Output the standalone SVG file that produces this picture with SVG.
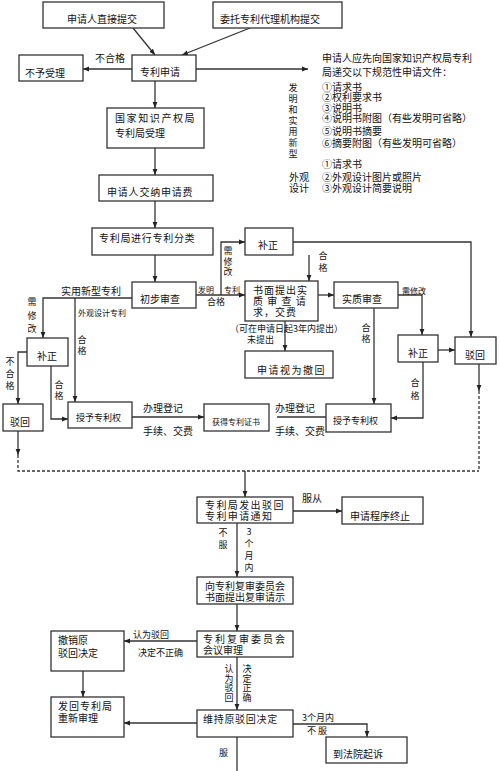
<svg xmlns="http://www.w3.org/2000/svg" width="500" height="771" viewBox="0 0 500 771">
<style>
text{font-family:"Noto Sans CJK SC","Noto Sans CJK TC",sans-serif;font-size:10px;fill:#111}
.s{font-size:8px}
.m{font-size:9px}
.v{font-size:9px;writing-mode:vertical-rl;text-orientation:upright}
.b{fill:#fff;stroke:#333;stroke-width:1.3}
.l{fill:none;stroke:#333;stroke-width:1.3}
.a{marker-end:url(#ah)}
.d{fill:none;stroke:#333;stroke-width:1.3;stroke-dasharray:3 2}
</style>
<defs>
<marker id="ah" viewBox="0 0 10 10" refX="10" refY="5" markerWidth="6" markerHeight="6" markerUnits="userSpaceOnUse" orient="auto"><path d="M0,1 L10,5 L0,9 z" fill="#222"/></marker>
</defs>
<rect width="500" height="771" fill="#fff"/>
<g id="connectors">
<path class="l a" d="M133,28 L155,55"/>
<path class="l a" d="M250,28 L182,55"/>
<path class="l a" d="M132,69 L83,69"/>
<path class="l a" d="M196,69 L308,69"/>
<path class="l a" d="M155,81 L155,108"/>
<path class="l a" d="M155,148 L155,175"/>
<path class="l a" d="M155,201 L155,228"/>
<path class="l a" d="M155,255 L155,282"/>
<path class="l a" d="M132,298 L43,298 L43,338"/>
<path class="l a" d="M75,298 L75,402"/>
<path class="l a" d="M27,352 L18,352 L18,404"/>
<path class="l a" d="M51,366 L51,419 L68,419"/>
<path class="l a" d="M132,417 L204,417"/>
<path class="l a" d="M196,295 L245,295"/>
<path class="l a" d="M221,295 L221,242 L245,242"/>
<path class="l a" d="M293,242 L471,242 L471,337"/>
<path class="l a" d="M309,255 L309,281"/>
<path class="l a" d="M285,321 L285,351"/>
<path class="l a" d="M318,295 L334,295"/>
<path class="l a" d="M398,295 L422,295 L422,335"/>
<path class="l a" d="M374,308 L374,404"/>
<path class="l a" d="M438,350 L455,350"/>
<path class="l a" d="M423,362 L423,418 L391,418"/>
<path class="l a" d="M479,364 L479,391"/>
<path class="d" d="M479,391 L479,471"/>
<path class="l a" d="M18,431 L18,455"/>
<path class="d" d="M18,455 L18,471 L479,471"/>
<path class="l a" d="M245,471 L245,497"/>
<path class="l" d="M326,417 L277,417"/>
<path class="l a" d="M293,511 L342,511"/>
<path class="l a" d="M237,523 L237,577"/>
<path class="l a" d="M237,604 L237,631"/>
<path class="l a" d="M197,641 L124,641"/>
<path class="l a" d="M83,671 L83,697"/>
<path class="l a" d="M237,657 L237,710"/>
<path class="l a" d="M197,723 L124,723"/>
<path class="l a" d="M293,724 L367,724 L367,737"/>
<path class="l" d="M237,737 L237,771"/>
</g>
<g id="labels">
<text x="95" y="62">不合格</text>
<text x="61" y="295">实用新型专利</text>
<text class="s" x="78" y="316">外观设计专利</text>
<text class="v" x="32" y="297.5" style="letter-spacing:4.5px">需修改</text>
<text class="v" x="10" y="357.5" style="letter-spacing:3px">不合格</text>
<text class="v" x="82" y="335.5" style="letter-spacing:2px">合格</text>
<text class="v" x="59" y="380.5" style="letter-spacing:2px">合格</text>
<text x="143" y="412">办理登记</text>
<text x="143" y="435">手续、交费</text>
<text class="s" x="198" y="293">发明</text>
<text class="s" x="224" y="293">专利</text>
<text class="m" x="207" y="305">合格</text>
<text class="v" x="228" y="246.5" style="letter-spacing:1.5px">需修改</text>
<text class="v" x="323" y="251.5" style="letter-spacing:3px">合格</text>
<text class="m" x="230" y="332">（可在申请日起3年内提出）</text>
<text class="m" x="247" y="343">未提出</text>
<text class="s" x="402" y="294">需修改</text>
<text class="v" x="366" y="323.5" style="letter-spacing:2px">合格</text>
<text class="v" x="415" y="378.5" style="letter-spacing:4px">合格</text>
<text x="275" y="412">办理登记</text>
<text x="275" y="435">手续、交费</text>
<text x="302" y="502">服从</text>
<text class="v" x="223" y="528.5" style="letter-spacing:3px">不服</text>
<text class="v" x="249" y="527.5" style="letter-spacing:3px">3个月内</text>
<text class="m" x="133" y="638">认为驳回</text>
<text class="m" x="138" y="656">决定不正确</text>
<text class="v" x="229" y="664.5" style="letter-spacing:0.4px">认为驳回</text>
<text class="v" x="247" y="664.5" style="letter-spacing:0.4px">决定正确</text>
<text class="m" x="302" y="721">3个月内</text>
<text class="m" x="307" y="734">不  服</text>
<text class="m" x="219" y="756">服</text>
</g>
<g id="notes">
<text x="322" y="62">申请人应先向国家知识产权局专利</text>
<text x="322" y="76">局递交以下规范性申请文件：</text>
<text class="v" x="293" y="83.5" style="letter-spacing:2px">发明和实用新型</text>
<text x="322" y="91">①请求书</text>
<text x="322" y="101">②权利要求书</text>
<text x="322" y="112">③说明书</text>
<text x="322" y="122">④说明书附图（有些发明可省略）</text>
<text x="322" y="135">⑤说明书摘要</text>
<text x="322" y="147">⑥摘要附图（有些发明可省略）</text>
<text x="322" y="168">①请求书</text>
<text x="289" y="181">外观</text>
<text x="322" y="181">②外观设计图片或照片</text>
<text x="289" y="192">设计</text>
<text x="322" y="192">③外观设计简要说明</text>
</g>
<g id="n1"><rect class="b" x="43" y="2" width="121" height="26"/><text x="67" y="23">申请人直接提交</text></g>
<g id="n2"><rect class="b" x="213" y="2" width="129" height="26"/><text x="220" y="23">委托专利代理机构提交</text></g>
<g id="n3"><rect class="b" x="132" y="55" width="64" height="26"/><text x="140" y="76">专利申请</text></g>
<g id="n4"><rect class="b" x="19" y="55" width="64" height="26"/><text x="25" y="77">不予受理</text></g>
<g id="n5"><rect class="b" x="107" y="108" width="97" height="40"/><text x="115" y="122" style="letter-spacing:1.6px">国家知识产权局</text><text x="115" y="137">专利局受理</text></g>
<g id="n6"><rect class="b" x="99" y="175" width="114" height="26"/><text x="107" y="196" style="letter-spacing:0.8px">申请人交纳申请费</text></g>
<g id="n7"><rect class="b" x="92" y="228" width="121" height="27"/><text x="99" y="242" style="letter-spacing:0.7px">专利局进行专利分类</text></g>
<g id="n8"><rect class="b" x="132" y="282" width="64" height="26"/><text x="140" y="303">初步审查</text></g>
<g id="n9"><rect class="b" x="27" y="338" width="41" height="28"/><text x="37" y="360">补正</text></g>
<g id="n10"><rect class="b" x="3" y="404" width="40" height="27"/><text x="10" y="426">驳回</text></g>
<g id="n11"><rect class="b" x="68" y="402" width="64" height="26"/><text class="m" x="76" y="421">授予专利权</text></g>
<g id="n12"><rect class="b" x="204" y="404" width="65" height="27"/><text class="s" x="212" y="425">获得专利证书</text></g>
<g id="n13"><rect class="b" x="245" y="228" width="48" height="27"/><text x="258" y="249">补正</text></g>
<g id="n14"><rect class="b" x="245" y="281" width="73" height="40"/><text x="253" y="294" style="letter-spacing:1px">书面提出实</text><text x="253" y="305" style="letter-spacing:1px">质 审 查 请</text><text x="253" y="316" style="letter-spacing:1px">求，交费</text></g>
<g id="n15"><rect class="b" x="245" y="351" width="88" height="27"/><text x="257" y="374" style="letter-spacing:1.5px">申请视为撤回</text></g>
<g id="n16"><rect class="b" x="334" y="282" width="64" height="26"/><text x="342" y="303">实质审查</text></g>
<g id="n17"><rect class="b" x="398" y="335" width="40" height="27"/><text x="408" y="357">补正</text></g>
<g id="n18"><rect class="b" x="455" y="337" width="41" height="27"/><text x="465" y="359">驳回</text></g>
<g id="n19"><rect class="b" x="326" y="404" width="65" height="28"/><text class="m" x="333" y="424">授予专利权</text></g>
<g id="n20"><rect class="b" x="197" y="497" width="96" height="26"/><text x="205" y="509" style="letter-spacing:1.4px">专利局发出驳回</text><text x="205" y="520" style="letter-spacing:1.4px">专利申请通知</text></g>
<g id="n21"><rect class="b" x="342" y="497" width="81" height="27"/><text x="350" y="520">申请程序终止</text></g>
<g id="n22"><rect class="b" x="197" y="577" width="96" height="27"/><text x="205" y="590">向专利复审委员会</text><text x="205" y="601">书面提出复审请示</text></g>
<g id="n23"><rect class="b" x="197" y="631" width="96" height="26"/><text x="203" y="643" style="letter-spacing:2px">专利复审委员会</text><text x="203" y="654">会议审理</text></g>
<g id="n24"><rect class="b" x="51" y="631" width="73" height="40"/><text x="58" y="644">撤销原</text><text x="58" y="657">驳回决定</text></g>
<g id="n25"><rect class="b" x="51" y="697" width="73" height="40"/><text x="58" y="710" style="letter-spacing:1px">发回专利局</text><text x="58" y="722">重新审理</text></g>
<g id="n26"><rect class="b" x="197" y="710" width="96" height="27"/><text x="203" y="723" style="letter-spacing:0.7px">维持原驳回决定</text></g>
<g id="n27"><rect class="b" x="326" y="737" width="81" height="26"/><text x="333" y="758">到法院起诉</text></g>
</svg>
